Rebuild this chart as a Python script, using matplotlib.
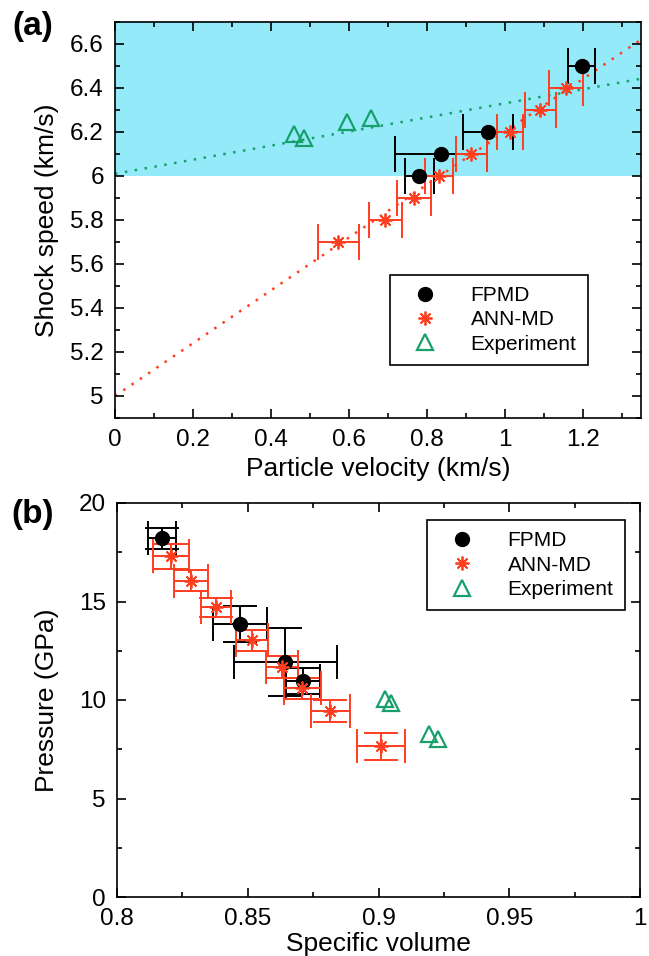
import matplotlib
matplotlib.use("Agg")
import matplotlib.pyplot as plt
import numpy as np

plt.rcParams["font.family"] = ["Liberation Sans", "DejaVu Sans"]

# panel (a): shock speed vs particle velocity
fp_up = [1.198, 0.957, 0.837, 0.781]
fp_us = [6.5, 6.2, 6.1, 6.0]
fp_up_err = [0.035, 0.065, 0.118, 0.037]

ann_up = [1.158, 1.091, 1.014, 0.914, 0.831, 0.768, 0.694, 0.573]
ann_us = [6.4, 6.3, 6.2, 6.1, 6.0, 5.9, 5.8, 5.7]
ann_up_err = [0.043, 0.040, 0.034, 0.040, 0.036, 0.043, 0.043, 0.053]

exp_up = [0.459, 0.485, 0.596, 0.656]
exp_us = [6.192, 6.174, 6.245, 6.265]

fit_exp = (6.01, 0.32)  # intercept, slope
fit_ann = (5.0, 1.2)

# panel (b): pressure vs specific volume
fp_v = [0.8172, 0.8472, 0.8644, 0.8711]
fp_p = [18.22, 13.87, 11.94, 10.96]
fp_v_err = [0.0055, 0.0103, 0.0196, 0.0065]
fp_p_err = [0.53, 0.92, 1.72, 0.64]

ann_v = [0.8207, 0.8284, 0.8379, 0.8517, 0.8631, 0.8708, 0.8816, 0.9008]
ann_p = [17.29, 16.06, 14.71, 13.03, 11.68, 10.59, 9.44, 7.64]
ann_v_err = [0.0068, 0.0065, 0.0057, 0.0062, 0.0060, 0.0071, 0.0075, 0.0092]
ann_p_err = [0.63, 0.55, 0.49, 0.54, 0.55, 0.54, 0.57, 0.70]

exp_v = [0.9023, 0.9046, 0.9195, 0.9227]
exp_p = [10.05, 9.83, 8.28, 8.03]

BLACK = "black"
RED = "#FF3D1F"
GREEN = "#17A06C"
CYAN = "#95EAF9"
AST = (8, 2, 0)


def style_axis(ax):
    ax.tick_params(which="both", direction="in", top=True, right=True,
                   width=1.2, labelsize=17.5, pad=8)
    ax.tick_params(which="major", length=6.5)
    ax.tick_params(which="minor", length=3.5)
    for s in ax.spines.values():
        s.set_linewidth(1.2)


fig = plt.figure(figsize=(6.49, 9.56), dpi=100)
ax1 = fig.add_axes([115 / 649, 1 - 418 / 956, 526 / 649, 396 / 956])
ax2 = fig.add_axes([117 / 649, 1 - 897 / 956, 523 / 649, 394 / 956])

# ---- (a)
ax1.axhspan(6.0, 6.7, color=CYAN, lw=0, zorder=0)
xx = np.array([0, 1.35])
ax1.plot(xx, fit_exp[0] + fit_exp[1] * xx, ls=(0, (1, 3)), lw=1.8, color=GREEN, zorder=1)
ax1.plot(xx, fit_ann[0] + fit_ann[1] * xx, ls=(0, (1, 3)), lw=1.8, color=RED, zorder=1)

ax1.errorbar(fp_up, fp_us, xerr=fp_up_err, fmt="none", ecolor=BLACK,
             elinewidth=1.4, capsize=13, capthick=1.4, zorder=2)
ax1.errorbar(ann_up, ann_us, xerr=ann_up_err, fmt="none", ecolor=RED,
             elinewidth=1.4, capsize=13, capthick=1.4, zorder=2)
ax1.plot(fp_up, fp_us, "o", color=BLACK, ms=10, ls="none", label="FPMD", zorder=3)
ax1.plot(ann_up, ann_us, marker=AST, color=RED, ms=10, mew=1.3, ls="none",
         label="ANN-MD", zorder=3)
ax1.plot(exp_up, exp_us, "^", mfc="none", mec=GREEN, mew=1.6, ms=11, ls="none",
         label="Experiment", zorder=3)

ax1.set_xlim(0, 1.35)
ax1.set_ylim(4.9, 6.7)
ax1.set_xticks(np.arange(0, 1.21, 0.2))
ax1.set_xticklabels(["0", "0.2", "0.4", "0.6", "0.8", "1", "1.2"])
ax1.set_xticks(np.arange(0, 1.35, 0.1), minor=True)
ax1.set_yticks(np.arange(5.0, 6.61, 0.2))
ax1.set_yticklabels(["5", "5.2", "5.4", "5.6", "5.8", "6", "6.2", "6.4", "6.6"])
ax1.set_yticks(np.arange(4.9, 6.71, 0.1), minor=True)
style_axis(ax1)
ax1.set_xlabel("Particle velocity (km/s)", fontsize=19, labelpad=4)
ax1.set_ylabel("Shock speed (km/s)", fontsize=19, labelpad=8)
leg1 = ax1.legend(loc="upper right", bbox_to_anchor=(0.899, 0.362), fontsize=15,
                  frameon=True, fancybox=False, edgecolor="black", framealpha=1,
                  handlelength=2.2, handletextpad=1.1, labelspacing=0.25,
                  borderpad=0.55, borderaxespad=0)
leg1.get_frame().set_linewidth(1.2)

# ---- (b)
ax2.errorbar(fp_v, fp_p, xerr=fp_v_err, yerr=fp_p_err, fmt="none", ecolor=BLACK,
             elinewidth=1.4, capsize=12, capthick=1.4, zorder=2)
ax2.errorbar(ann_v, ann_p, xerr=ann_v_err, yerr=ann_p_err, fmt="none", ecolor=RED,
             elinewidth=1.4, capsize=12, capthick=1.4, zorder=2)
ax2.plot(fp_v, fp_p, "o", color=BLACK, ms=10, ls="none", label="FPMD", zorder=3)
ax2.plot(ann_v, ann_p, marker=AST, color=RED, ms=10, mew=1.3, ls="none",
         label="ANN-MD", zorder=3)
ax2.plot(exp_v, exp_p, "^", mfc="none", mec=GREEN, mew=1.6, ms=11, ls="none",
         label="Experiment", zorder=3)

ax2.set_xlim(0.8, 1.0)
ax2.set_ylim(0, 20)
ax2.set_xticks([0.8, 0.85, 0.9, 0.95, 1.0])
ax2.set_xticklabels(["0.8", "0.85", "0.9", "0.95", "1"])
ax2.set_xticks(np.arange(0.8, 1.001, 0.025), minor=True)
ax2.set_yticks([0, 5, 10, 15, 20])
ax2.set_yticks(np.arange(0, 20.1, 2.5), minor=True)
style_axis(ax2)
ax2.set_xlabel("Specific volume", fontsize=19, labelpad=1)
ax2.set_ylabel("Pressure (GPa)", fontsize=19, labelpad=14)
leg2 = ax2.legend(loc="upper right", bbox_to_anchor=(0.971, 0.957), fontsize=15,
                  frameon=True, fancybox=False, edgecolor="black", framealpha=1,
                  handlelength=2.2, handletextpad=1.1, labelspacing=0.25,
                  borderpad=0.55, borderaxespad=0)
leg2.get_frame().set_linewidth(1.2)

fig.text(33 / 649, 1 - 26 / 956, "(a)", fontsize=24, fontweight="bold",
         ha="center", va="center")
fig.text(33 / 649, 1 - 515 / 956, "(b)", fontsize=24, fontweight="bold",
         ha="center", va="center")

fig.savefig("out.png", dpi=100)
